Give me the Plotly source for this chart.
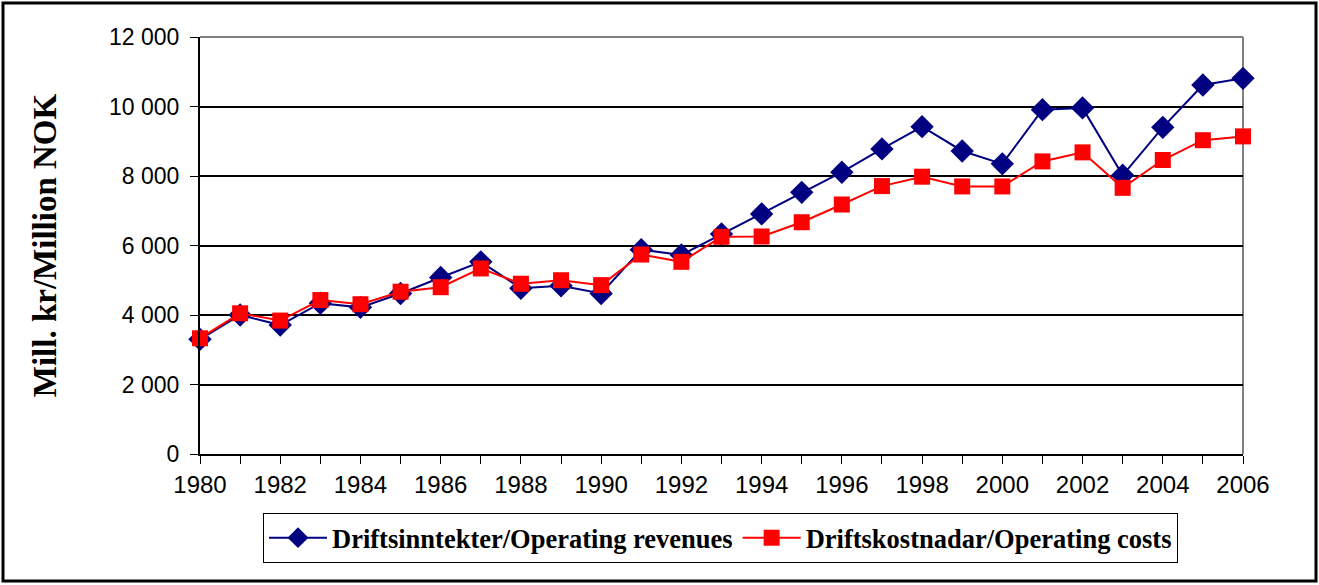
import plotly.graph_objects as go

years = list(range(1980, 2007))
revenues = [3300, 4000, 3710, 4340, 4220, 4620, 5080, 5530, 4770, 4840, 4620, 5880, 5730,
            6330, 6910, 7530, 8110, 8780, 9420, 8720, 8350, 9910, 9960, 8020, 9400, 10620, 10810]
costs = [3330, 4050, 3840, 4430, 4310, 4670, 4800, 5340, 4900, 5000, 4860, 5740, 5530,
         6250, 6260, 6670, 7180, 7710, 7980, 7700, 7700, 8420, 8680, 7660, 8460, 9030, 9140]
rev_name = "Driftsinntekter/Operating revenues"
cost_name = "Driftskostnadar/Operating costs"
y_title = "Mill. kr/Million NOK"
y_ticks = [0, 2000, 4000, 6000, 8000, 10000, 12000]

W, H = 1319, 585
L, R, T, B = 200, 1243, 37, 454
pw, ph = R - L, B - T

fig = go.Figure()
fig.add_trace(go.Scatter(x=years, y=revenues, name="<b>" + rev_name + "</b>", mode="lines+markers",
                         line=dict(color="#000080", width=2), cliponaxis=False,
                         marker=dict(symbol="diamond", size=18, color="#000080")))
fig.add_trace(go.Scatter(x=years, y=costs, name="<b>" + cost_name + "</b>", mode="lines+markers",
                         line=dict(color="#FF0000", width=2), cliponaxis=False,
                         marker=dict(symbol="square", size=16, color="#FF0000")))

def px_x(p):
    return (p - L) / pw

def px_y(p):
    return (B - p) / ph

shapes = [
    dict(type="line", xref="paper", yref="paper", x0=0, x1=1, y0=1, y1=1,
         line=dict(color="#808080", width=2), layer="above"),
    dict(type="line", xref="paper", yref="paper", x0=1, x1=1, y0=0, y1=1,
         line=dict(color="#808080", width=2), layer="below"),
    dict(type="rect", xref="paper", yref="paper", x0=px_x(3), x1=px_x(1316),
         y0=px_y(581), y1=px_y(3), line=dict(color="black", width=3)),
]

fig.update_layout(
    width=W, height=H,
    margin=dict(l=L, r=W - R, t=T, b=H - B),
    paper_bgcolor="white", plot_bgcolor="white",
    separators=", ",
    font=dict(family="Liberation Sans, Arial", size=24, color="black"),
    xaxis=dict(range=[1980, 2006], tickvals=years,
               ticktext=[str(y) if y % 2 == 0 else "" for y in years],
               showgrid=False, showline=True, linecolor="black", linewidth=2,
               ticks="outside", ticklen=8, tickwidth=1, tickcolor="black",
               tickfont=dict(size=24), zeroline=False),
    yaxis=dict(range=[0, 12000], tickvals=y_ticks, tickformat=",d",
               showgrid=True, gridcolor="black", gridwidth=2,
               showline=True, linecolor="black", linewidth=2,
               ticks="outside", ticklen=8, tickwidth=1, tickcolor="black",
               tickfont=dict(size=23), zeroline=False, ticklabelstandoff=6,
               title=dict(text="<b>" + y_title + "</b>",
                          font=dict(family="Liberation Serif, Times New Roman", size=33),
                          standoff=42)),
    legend=dict(orientation="h", x=px_x(263), y=px_y(513), xanchor="left", yanchor="top",
                bordercolor="black", borderwidth=1, bgcolor="white",
                font=dict(family="Liberation Serif, Times New Roman", size=26.5),
                itemwidth=58, traceorder="normal"),
    shapes=shapes,
    showlegend=True,
)

fig.write_html("out.html", config={"displayModeBar": False},
               post_script="document.body.style.margin='0';document.body.style.overflow='hidden';")
